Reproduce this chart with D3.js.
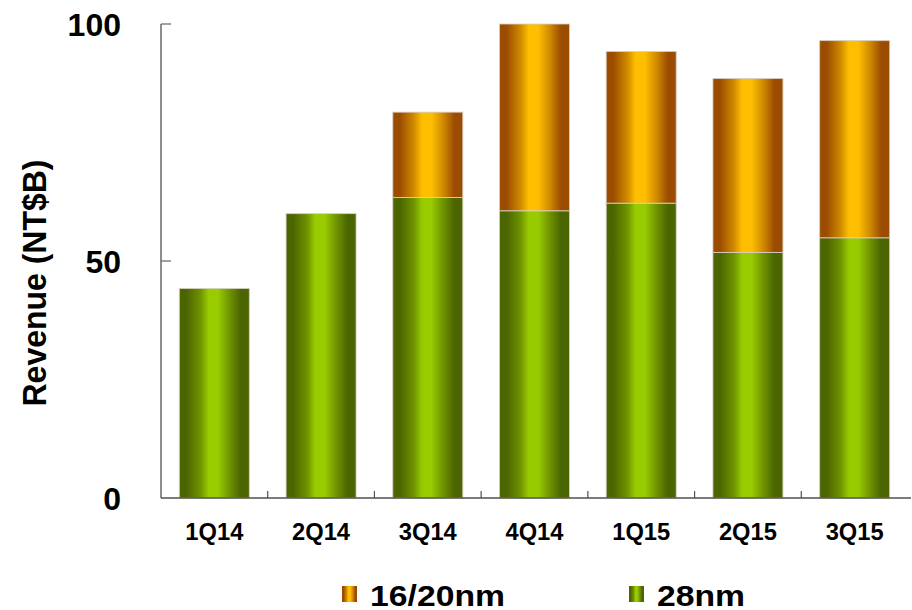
<!DOCTYPE html>
<html>
<head>
<meta charset="utf-8">
<script src="https://cdn.jsdelivr.net/npm/d3@7"></script>
<style>
  html, body { margin: 0; padding: 0; background: #fff; }
  svg { display: block; font-family: "Liberation Sans", Arial, sans-serif; }
</style>
</head>
<body>
<svg id="chart" width="912" height="610"></svg>
<script>
// Quarterly revenue by process node (NT$ billions)
const categories = ["1Q14", "2Q14", "3Q14", "4Q14", "1Q15", "2Q15", "3Q15"];
const nm28 = [44.2, 60.0, 63.4, 60.6, 62.2, 51.8, 54.9];
const nm1620 = [0, 0, 18.0, 39.4, 32.0, 36.7, 41.6];
const seriesKeys = ["28nm", "16/20nm"];
const legendKeys = ["16/20nm", "28nm"];
const yTicks = [0, 50, 100];

const rows = categories.map((c, i) => ({ cat: c, "28nm": nm28[i], "16/20nm": nm1620[i] }));

const svg = d3.select("#chart");
const plotLeft = 161, plotRight = 908, plotTop = 24, plotBottom = 498;

const x = d3.scaleBand().domain(categories).range([plotLeft, plotRight])
  .paddingInner(0.344).paddingOuter(0.172);
const y = d3.scaleLinear().domain([0, 100]).range([plotBottom, plotTop]);

// Cylinder-like horizontal shading for each series
const defs = svg.append("defs");
const shades = {
  "28nm": { dark: "#4b6500", mid: "#6f9300", light: "#99cc00" },
  "16/20nm": { dark: "#9c4c00", mid: "#d08a00", light: "#ffbf00" }
};
const gradId = k => "g" + k.replace(/\W/g, "");
Object.entries(shades).forEach(([k, s]) => {
  const g = defs.append("linearGradient").attr("id", gradId(k))
    .attr("x1", "0%").attr("x2", "100%").attr("y1", "0%").attr("y2", "0%");
  [[0, s.dark], [0.1, s.dark], [0.3, s.mid], [0.42, s.light], [0.55, s.light],
   [0.72, s.mid], [0.88, s.dark], [1, s.dark]]
    .forEach(([o, c]) => g.append("stop").attr("offset", o).attr("stop-color", c));
});

const stacked = d3.stack().keys(seriesKeys)(rows);

svg.append("g").selectAll("g").data(stacked).join("g")
  .attr("fill", d => `url(#${gradId(d.key)})`)
  .selectAll("rect").data(d => d.filter(p => p[1] - p[0] > 0)).join("rect")
  .attr("x", d => x(d.data.cat))
  .attr("width", x.bandwidth())
  .attr("y", d => y(d[1]))
  .attr("height", d => y(d[0]) - y(d[1]))
  .attr("stroke", "#d6cfc6")
  .attr("stroke-width", 1)
  .attr("stroke-opacity", 0.85);

// Axes
const axisColor = "#505050";
svg.append("line").attr("x1", plotLeft).attr("x2", plotLeft).attr("y1", plotTop).attr("y2", plotBottom)
  .attr("stroke", axisColor).attr("stroke-width", 1.3);
svg.append("line").attr("x1", plotLeft).attr("x2", 911).attr("y1", plotBottom).attr("y2", plotBottom)
  .attr("stroke", axisColor).attr("stroke-width", 1.3);

// y ticks point into the plot
svg.append("g").selectAll("line").data(yTicks.filter(t => t > 0)).join("line")
  .attr("x1", plotLeft).attr("x2", plotLeft + 10)
  .attr("y1", d => y(d)).attr("y2", d => y(d))
  .attr("stroke", "#707070").attr("stroke-width", 1.3);

svg.append("g").selectAll("text").data(yTicks).join("text")
  .attr("x", 121).attr("y", d => y(d))
  .attr("dy", "0.36em")
  .attr("text-anchor", "end")
  .attr("font-size", 32).attr("font-weight", "bold").attr("fill", "#000")
  .text(d => d);

// x ticks sit on the boundaries between categories
const step = x.step();
svg.append("g").selectAll("line").data(categories.slice(1)).join("line")
  .attr("x1", d => x(d) - step * x.paddingInner() / 2)
  .attr("x2", d => x(d) - step * x.paddingInner() / 2)
  .attr("y1", plotBottom).attr("y2", plotBottom - 7)
  .attr("stroke", axisColor).attr("stroke-width", 1.2);

svg.append("g").selectAll("text").data(categories).join("text")
  .attr("x", d => x(d) + x.bandwidth() / 2)
  .attr("y", 540)
  .attr("text-anchor", "middle")
  .attr("font-size", 24).attr("font-weight", "bold").attr("fill", "#000")
  .attr("textLength", 58).attr("lengthAdjust", "spacingAndGlyphs")
  .text(d => d);

// y axis title
svg.append("text")
  .attr("transform", "translate(46,283) rotate(-90)")
  .attr("text-anchor", "middle")
  .attr("font-size", 33).attr("font-weight", "bold").attr("fill", "#000")
  .attr("textLength", 247).attr("lengthAdjust", "spacingAndGlyphs")
  .text("Revenue (NT$B)");

// Legend
const legendX = { "16/20nm": 342, "28nm": 629 };
const legendW = { "16/20nm": 135, "28nm": 88 };
const lg = svg.append("g").selectAll("g").data(legendKeys).join("g")
  .attr("transform", d => `translate(${legendX[d]},586)`);
lg.append("rect").attr("width", 15).attr("height", 16)
  .attr("fill", d => `url(#${gradId(d)})`);
lg.append("text")
  .attr("x", 28).attr("y", 19.5)
  .attr("font-size", 30).attr("font-weight", "bold").attr("fill", "#000")
  .attr("textLength", d => legendW[d]).attr("lengthAdjust", "spacingAndGlyphs")
  .text(d => d);
</script>
</body>
</html>
